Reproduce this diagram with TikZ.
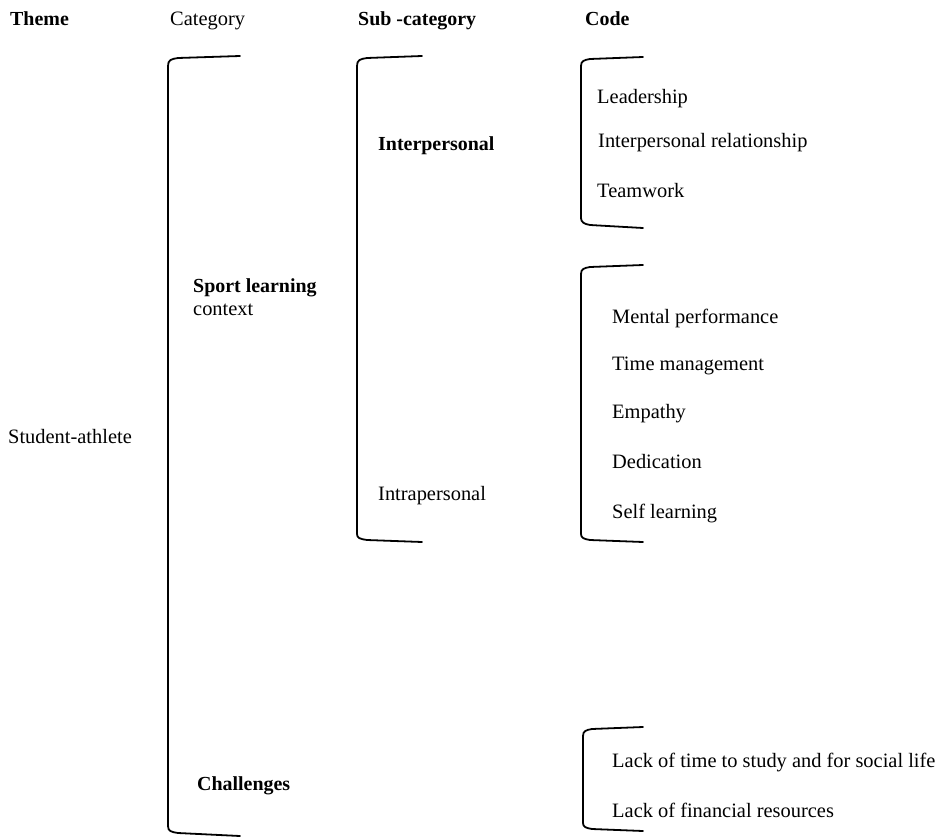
\documentclass[tikz,border=0pt]{standalone}
\usepackage{fontspec}
\setmainfont{Liberation Serif}
\usepackage{tikz}

\tikzset{
  txt/.style={anchor=base west, inner sep=0pt, font=\fontsize{20.5}{24}\selectfont},
  hdr/.style={txt, font=\fontsize{20}{24}\selectfont\bfseries},
  brk/.style={draw, line width=1.8pt, line cap=round}
}

\begin{document}
\begin{tikzpicture}[x=1bp, y=-1bp]
        \useasboundingbox (0,0) rectangle (938,838);
        % Column headings
        \node[hdr] (theme) at (10,25) {Theme};
        \node[txt] (cat) at (170,25) {Category};
        \node[hdr] (subcat) at (358,25) {Sub -category};
        \node[hdr] (code) at (585,25) {Code};
        % Theme
        \node[txt] (athlete) at (8,443) {Student-athlete};
        % Category bracket and labels
        \draw[brk] (240,56) -- (178,58) .. controls (171,59) and (168,60) .. (168,66)
              -- (168,826) .. controls (168,831) and (171,832) .. (178,833) -- (240,836);
        \node[hdr] (sport) at (193,292) {Sport learning};
        \node[txt] (context) at (193,315) {context};
        \node[hdr] (chall) at (197,790) {Challenges};
        % Sub-category bracket and labels
        \draw[brk] (422,56) -- (367,58) .. controls (360,59) and (357,60) .. (357,66)
              -- (357,534) .. controls (357,538) and (360,539) .. (367,540) -- (422,542);
        \node[hdr] (inter) at (378,150) {Interpersonal};
        \node[txt] (intra) at (378,500) {Intrapersonal};
        % Codes: interpersonal
        \draw[brk] (643,57) -- (590,59) .. controls (584,60) and (581,61) .. (581,66)
              -- (581,218) .. controls (581,222) and (584,224) .. (590,225) -- (643,228);
        \node[txt] (lead) at (597,103) {Leadership};
        \node[txt] (relat) at (598,147) {Interpersonal relationship};
        \node[txt] (team) at (597,197) {Teamwork};
        % Codes: intrapersonal
        \draw[brk] (643,265) -- (590,267) .. controls (584,268) and (581,269) .. (581,274)
              -- (581,534) .. controls (581,538) and (584,539) .. (590,540) -- (643,542);
        \node[txt] (mental) at (612,323) {Mental performance};
        \node[txt] (timem) at (612,370) {Time management};
        \node[txt] (empathy) at (612,418) {Empathy};
        \node[txt] (dedic) at (612,468) {Dedication};
        \node[txt] (selfl) at (612,518) {Self learning};
        % Codes: challenges
        \draw[brk] (643,727) -- (592,729) .. controls (586,730) and (583,731) .. (583,736)
              -- (583,823) .. controls (583,827) and (586,828) .. (592,829) -- (643,831);
        \node[txt] (nostudy) at (612,767) {Lack of time to study and for social life};
        \node[txt] (nomoney) at (612,817) {Lack of financial resources};
    \end{tikzpicture}
\end{document}
